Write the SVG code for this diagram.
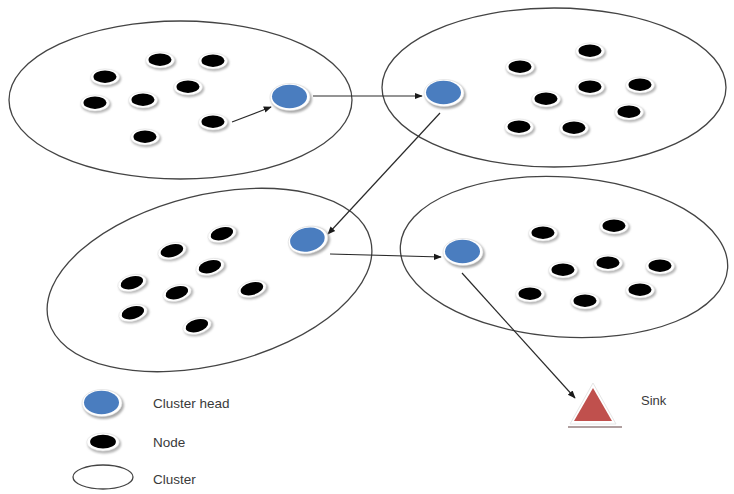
<svg xmlns="http://www.w3.org/2000/svg" xmlns:xlink="http://www.w3.org/1999/xlink" width="734" height="494" viewBox="0 0 734 494">
<style>
.cluster{fill:none;stroke:#444444;stroke-width:1.3}
.conn{fill:none;stroke:#2a2a2a;stroke-width:1.2}
.lbl{font-family:"Liberation Sans",Arial,sans-serif;font-size:13.5px;fill:#3a3a3a}
</style>
<defs>
<filter id="blur" x="-30%" y="-30%" width="160%" height="160%"><feGaussianBlur stdDeviation="0.8"/></filter>
<g id="nd">
<ellipse cx="1.2" cy="1.8" rx="15" ry="8.5" fill="#b5b5b5" filter="url(#blur)"/>
<ellipse cx="0" cy="0" rx="14.5" ry="8" fill="#ffffff" stroke="#e2e2e2" stroke-width="0.6"/>
<ellipse cx="0" cy="-0.3" rx="11.5" ry="6.2" fill="#000000"/>
</g>
<g id="ch">
<ellipse cx="1.5" cy="2" rx="20.5" ry="14" fill="#a9a9a9" filter="url(#blur)"/>
<ellipse cx="0" cy="0" rx="20" ry="13.5" fill="#ffffff" stroke="#dcdcdc" stroke-width="0.6"/>
<ellipse cx="-0.5" cy="-0.5" rx="17.5" ry="11.8" fill="#4a7dbf"/>
</g>
<marker id="ah" viewBox="0 0 10 10" refX="9" refY="5" markerWidth="8" markerHeight="8" markerUnits="userSpaceOnUse" orient="auto">
<path d="M0,1 L10,5 L0,9 z" fill="#1a1a1a"/>
</marker>
</defs>

<g id="cluster1">
<ellipse class="cluster" cx="180.5" cy="100" rx="171.5" ry="79"/>
<use href="#nd" x="160" y="60"/>
<use href="#nd" x="213" y="61"/>
<use href="#nd" x="105" y="77"/>
<use href="#nd" x="188" y="87"/>
<use href="#nd" x="95" y="103"/>
<use href="#nd" x="143" y="100"/>
<use href="#nd" x="213" y="122"/>
<use href="#nd" x="145" y="137"/>
</g>
<g id="cluster2">
<ellipse class="cluster" cx="554" cy="87.5" rx="172" ry="79.5"/>
<use href="#nd" x="520" y="67"/>
<use href="#nd" x="590" y="51"/>
<use href="#nd" x="640" y="85"/>
<use href="#nd" x="590" y="87"/>
<use href="#nd" x="546" y="99"/>
<use href="#nd" x="629" y="112"/>
<use href="#nd" x="519" y="127"/>
<use href="#nd" x="574" y="128"/>
</g>
<g id="cluster3">
<ellipse class="cluster" cx="0" cy="0" rx="166" ry="85" transform="translate(209.5 280) rotate(-14)"/>
<use href="#nd" transform="translate(222 234) rotate(-15)"/>
<use href="#nd" transform="translate(172 251) rotate(-15)"/>
<use href="#nd" transform="translate(210 267) rotate(-15)"/>
<use href="#nd" transform="translate(132 283) rotate(-15)"/>
<use href="#nd" transform="translate(177 293) rotate(-15)"/>
<use href="#nd" transform="translate(252 289) rotate(-15)"/>
<use href="#nd" transform="translate(133 313) rotate(-15)"/>
<use href="#nd" transform="translate(197 326) rotate(-15)"/>
</g>
<g id="cluster4">
<ellipse class="cluster" cx="0" cy="0" rx="164" ry="80" transform="translate(564 257) rotate(4)"/>
<use href="#nd" x="543" y="233"/>
<use href="#nd" x="614" y="226"/>
<use href="#nd" x="563" y="270"/>
<use href="#nd" x="608" y="263"/>
<use href="#nd" x="660" y="266"/>
<use href="#nd" x="530" y="294"/>
<use href="#nd" x="585" y="301"/>
<use href="#nd" x="640" y="290"/>
</g>

<g id="connectors">
<line class="conn" x1="232" y1="122" x2="271" y2="107" marker-end="url(#ah)"/>
<line class="conn" x1="313" y1="96" x2="422" y2="96" marker-end="url(#ah)"/>
<line class="conn" x1="440" y1="113" x2="328" y2="234" marker-end="url(#ah)"/>
<line class="conn" x1="330" y1="254" x2="441" y2="257" marker-end="url(#ah)"/>
<line class="conn" x1="462" y1="273" x2="575" y2="398" marker-end="url(#ah)"/>
</g>

<g id="ch1"><use href="#ch" x="290" y="97"/></g>
<g id="ch2"><use href="#ch" x="444" y="93"/></g>
<g id="ch3"><use href="#ch" transform="translate(308 240) rotate(-12)"/></g>
<g id="ch4"><use href="#ch" x="463" y="252"/></g>

<g id="sink">
<line x1="568" y1="427" x2="622" y2="427" stroke="#b0a0a0" stroke-width="2"/>
<polygon points="593,383 570,424 616,424" fill="#ffffff" stroke="#e6e6e6" stroke-width="1"/>
<polygon points="593,388 574,421 612,421" fill="#c0504d"/>
<text class="lbl" x="641" y="405" style="font-size:13px">Sink</text>
</g>

<g id="legend">
<g id="legend-ch"><use href="#ch" x="102" y="403"/><text class="lbl" x="153" y="408">Cluster head</text></g>
<g id="legend-node"><use href="#nd" transform="translate(103 442) scale(1.12)"/><text class="lbl" x="153" y="447">Node</text></g>
<g id="legend-cluster"><ellipse class="cluster" cx="103" cy="477" rx="30" ry="12"/><text class="lbl" x="153" y="484">Cluster</text></g>
</g>
</svg>
